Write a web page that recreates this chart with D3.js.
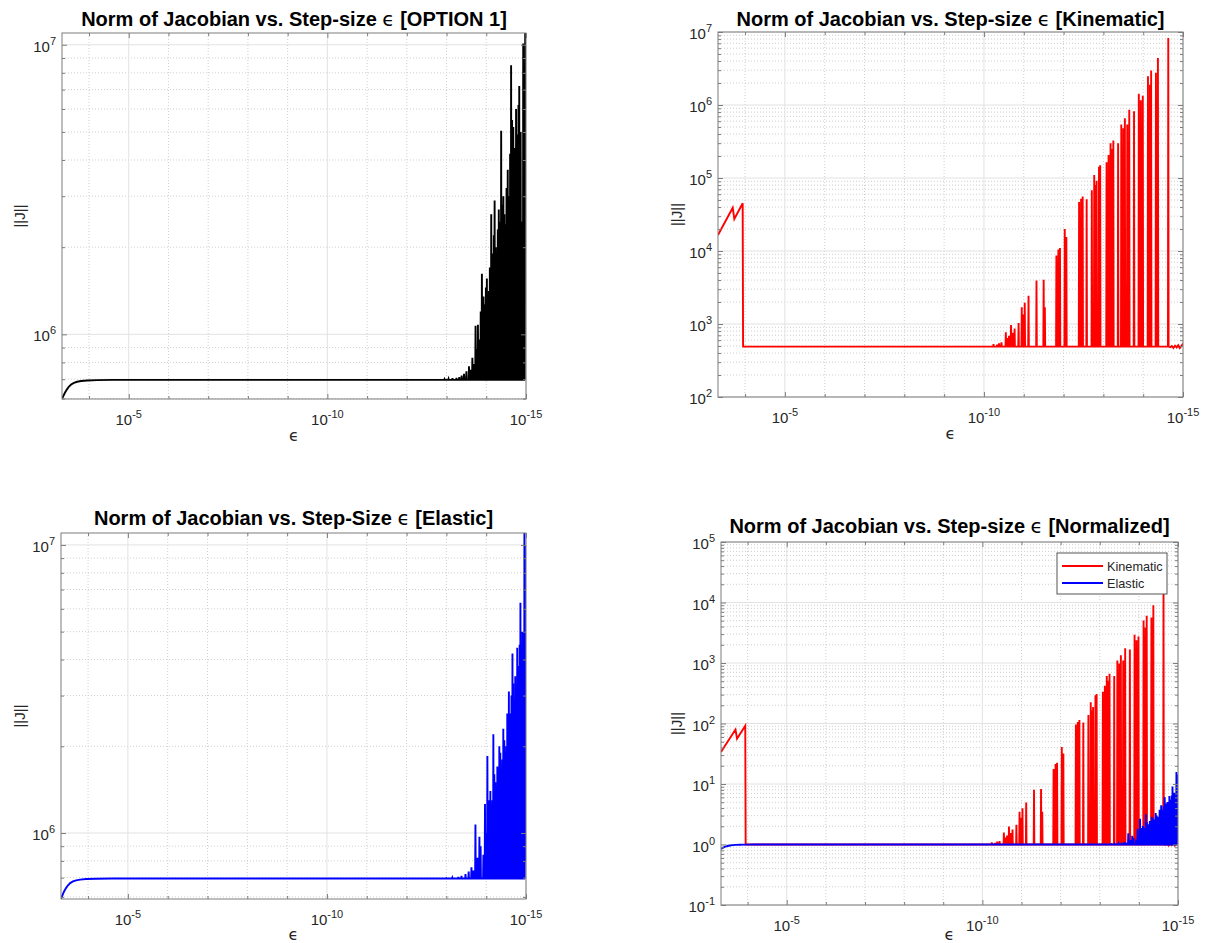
<!DOCTYPE html>
<html>
<head>
<meta charset="utf-8">
<script src="https://cdn.jsdelivr.net/npm/d3@7"></script>
<style>
  body { margin: 0; background: #fff; }
  svg { display: block; }
  text { font-family: "Liberation Sans", Arial, Helvetica, sans-serif; }
</style>
</head>
<body>
<svg id="fig" width="1206" height="943"></svg>
<script>
// ---------- data ----------
// step size eps = 10^-k ; x axis runs from 10^-3.32 down to 10^-15
const xDomain = [Math.pow(10, -3.32), 1e-15];
const xTickExps = [-5, -10, -15];

// y limits / tick labels (powers of ten)
const opt1YDomain = [5.98e5, 1.098e7];
const elasticYDomain = [5.9e5, 1.1e7];
const kinYDomain = [1e2, 1e7];
const normYDomain = [1e-1, 1e5];
const opt1YTickExps = [6, 7];
const elasticYTickExps = [6, 7];
const kinYTickExps = [2, 3, 4, 5, 6, 7];
const normYTickExps = [-1, 0, 1, 2, 3, 4, 5];

// OPTION 1 (black)
const opt1RampK = [3.32, 3.36, 3.40, 3.45, 3.49, 3.55, 3.62, 3.70, 3.80, 3.95, 4.20, 4.60];
const opt1RampV = [5.98e5, 6.15e5, 6.31e5, 6.47e5, 6.59e5, 6.71e5, 6.80e5, 6.86e5, 6.90e5, 6.93e5, 6.95e5, 6.96e5];
const opt1Base = 6.96e5;
const opt1Peaks = [
  [12.95, 7.0e5], [13.05, 7.02e5], [13.15, 7.05e5], [13.25, 7.08e5], [13.32, 7.12e5], [13.38, 7.2e5],
  [13.44, 7.3e5], [13.50, 7.45e5], [13.565, 7.75e5], [13.61, 7.55e5], [13.65, 8.3e5], [13.69, 7.9e5],
  [13.73, 1.07e6], [13.76, 8.9e5], [13.79, 1.08e6], [13.83, 9.6e5], [13.86, 1.2e6], [13.89, 1.62e6],
  [13.93, 1.35e6], [13.96, 1.27e6], [13.99, 1.45e6], [14.015, 1.56e6], [14.04, 1.3e6], [14.065, 1.41e6],
  [14.09, 1.7e6], [14.125, 2.6e6], [14.145, 1.9e6], [14.165, 1.83e6], [14.19, 2.2e6], [14.21, 2.9e6],
  [14.24, 2.0e6], [14.265, 1.91e6], [14.29, 2.3e6], [14.315, 2.7e6], [14.345, 2.45e6], [14.375, 5.05e6],
  [14.40, 2.8e6], [14.43, 3.0e6], [14.455, 2.6e6], [14.48, 2.4e6], [14.51, 3.2e6], [14.54, 3.7e6],
  [14.57, 3.0e6], [14.60, 4.2e6], [14.625, 8.5e6], [14.65, 5.5e6], [14.68, 5.2e6], [14.715, 4.4e6],
  [14.75, 6.0e6], [14.77, 4.9e6], [14.79, 4.7e6], [14.81, 6.2e6], [14.83, 7.2e6], [14.865, 5.0e6],
  [14.90, 2.45e6], [14.93, 1.01e7], [14.96, 7.0e6]
];
const opt1Tail = [[14.98, 1.098e7], [14.99, 1.0e7], [15.0, 1.05e7]];

// Elastic (blue)
const elasticRampK = [3.32, 3.36, 3.40, 3.45, 3.49, 3.55, 3.62, 3.70, 3.80, 3.95, 4.20, 4.60];
const elasticRampV = [5.9e5, 6.1e5, 6.28e5, 6.45e5, 6.57e5, 6.7e5, 6.79e5, 6.85e5, 6.89e5, 6.92e5, 6.94e5, 6.95e5];
const elasticBase = 6.95e5;
const elasticPeaks = [
  [13.00, 6.97e5], [13.15, 7.0e5], [13.30, 7.03e5], [13.38, 7.1e5], [13.48, 7.2e5], [13.56, 7.35e5],
  [13.63, 7.6e5], [13.68, 7.4e5], [13.73, 1.07e6], [13.78, 8.2e5], [13.83, 9.7e5], [13.86, 9.0e5],
  [13.93, 8.4e5], [13.97, 1.26e6], [14.005, 1.0e6], [14.03, 1.85e6], [14.06, 1.1e6], [14.08, 1.3e6],
  [14.105, 1.4e6], [14.13, 1.15e6], [14.155, 1.3e6], [14.18, 2.2e6], [14.205, 1.6e6], [14.23, 1.5e6],
  [14.255, 1.4e6], [14.28, 1.7e6], [14.305, 1.5e6], [14.33, 2.0e6], [14.355, 1.9e6], [14.38, 1.6e6],
  [14.405, 1.8e6], [14.43, 2.3e6], [14.455, 2.1e6], [14.48, 1.9e6], [14.505, 2.0e6], [14.53, 2.6e6],
  [14.55, 2.2e6], [14.57, 3.1e6], [14.59, 2.4e6], [14.61, 2.6e6], [14.635, 3.0e6], [14.66, 4.2e6],
  [14.68, 3.3e6], [14.70, 2.9e6], [14.715, 2.7e6], [14.73, 3.5e6], [14.755, 3.0e6], [14.78, 4.4e6],
  [14.80, 3.8e6], [14.82, 3.4e6], [14.84, 4.5e6], [14.86, 6.3e6], [14.875, 3.5e6], [14.89, 4.0e6],
  [14.91, 5.0e6], [14.93, 3.0e6], [14.945, 4.5e6], [14.96, 1.1e7]
];
const elasticTail = [[14.98, 1.0e7], [14.99, 8.0e5], [15.0, 1.0e7]];

// Kinematic (red)
const kinRampK = [3.32, 3.69, 3.73, 3.94, 3.95];
const kinRampV = [1.65e4, 3.9e4, 2.75e4, 4.5e4, 490];
const kinBase = 490;
const kinPeaks = [
  [10.24, 530], [10.33, 520], [10.38, 545], [10.44, 560], [10.55, 770], [10.59, 640], [10.63, 690],
  [10.68, 970], [10.72, 760], [10.77, 870], [10.87, 1035], [10.95, 1700], [10.98, 1350], [11.025, 1950],
  [11.12, 2430], [11.32, 3950], [11.50, 4050], [11.53, 1700], [11.82, 8700], [11.87, 1.05e4], [11.91, 1.1e4],
  [12.03, 2.0e4], [12.07, 1.56e4], [12.39, 4.7e4], [12.44, 5.2e4], [12.48, 5.6e4], [12.58, 5.1e4],
  [12.71, 6.8e4], [12.77, 1.1e5], [12.80, 8.0e4], [12.83, 9.2e4], [12.89, 1.43e5], [12.92, 1.5e5],
  [13.08, 1.64e5], [13.13, 2.07e5], [13.18, 3.0e5], [13.22, 2.5e5], [13.25, 3.26e5], [13.37, 3.0e5],
  [13.45, 5.4e5], [13.50, 4.8e5], [13.54, 6.6e5], [13.60, 5.4e5], [13.65, 8.6e5], [13.77, 8.2e5],
  [13.89, 1.43e6], [13.94, 1.16e6], [13.99, 1.34e6], [14.12, 2.47e6], [14.17, 1.9e6], [14.20, 2.96e6],
  [14.32, 2.76e6], [14.37, 4.4e6], [14.63, 8.3e6]
];
const kinTail = [[14.68, 480], [14.72, 500], [14.76, 470], [14.80, 505], [14.84, 478], [14.88, 512],
  [14.92, 468], [14.96, 500], [15.0, 540]];

const legendLabels = ["Kinematic", "Elastic"];

// ---------- build polylines ----------
function buildSeries(rampK, rampV, base, peaks, tail) {
  const pts = rampK.map((k, i) => [k, rampV[i]]);
  peaks.forEach(([k, v]) => {
    pts.push([k - 0.008, base], [k, v], [k + 0.008, base]);
  });
  tail.forEach(p => pts.push(p));
  return pts;
}

const opt1Pts = buildSeries(opt1RampK, opt1RampV, opt1Base, opt1Peaks, opt1Tail);
const elasticPts = buildSeries(elasticRampK, elasticRampV, elasticBase, elasticPeaks, elasticTail);
const kinPts = buildSeries(kinRampK, kinRampV, kinBase, kinPeaks, kinTail);
// normalized by the flat level of each curve
const kinNormPts = kinPts.map(([k, v]) => [k, v / kinBase]);
const elasticNormPts = elasticPts.map(([k, v]) => [k, v / elasticBase]);

const svg = d3.select("#fig");
const tickColor = "#262626";
const boxColor = "#7d7d7d";

const panels = [
  { id: "p1", tag: "[OPTION 1]", sizeWord: "Step-size", left: 62, right: 526, top: 33, bottom: 399, titleY: 26,
    yDomain: opt1YDomain, yTicks: opt1YTickExps, ylabelX: 20, series: [{ pts: opt1Pts, color: "#000000" }] },
  { id: "p2", tag: "[Kinematic]", sizeWord: "Step-size", left: 718, right: 1183, top: 32, bottom: 397, titleY: 26,
    yDomain: kinYDomain, yTicks: kinYTickExps, ylabelX: 677, series: [{ pts: kinPts, color: "#ff0000" }] },
  { id: "p3", tag: "[Elastic]", sizeWord: "Step-Size", left: 61, right: 526, top: 533, bottom: 899, titleY: 525,
    yDomain: elasticYDomain, yTicks: elasticYTickExps, ylabelX: 20, series: [{ pts: elasticPts, color: "#0000ff" }] },
  { id: "p4", tag: "[Normalized]", sizeWord: "Step-size", left: 721, right: 1178, top: 542, bottom: 905, titleY: 533,
    yDomain: normYDomain, yTicks: normYTickExps, ylabelX: 677,
    series: [{ pts: kinNormPts, color: "#ff0000" }, { pts: elasticNormPts, color: "#0000ff" }], legend: true }
];

function pow10Label(sel, exp) {
  sel.append("tspan").text("10");
  sel.append("tspan").attr("dy", -7).attr("font-size", 11).text(String(exp));
}

function drawPanel(p) {
  const g = svg.append("g");
  const x = d3.scaleLog().domain(xDomain).range([p.left, p.right]);
  const y = d3.scaleLog().domain(p.yDomain).range([p.bottom, p.top]);

  const xMajor = xTickExps.map(e => Math.pow(10, e));
  const xMinor = d3.range(-4, -15, -1).filter(e => !xTickExps.includes(e)).map(e => Math.pow(10, e));
  const yMajor = p.yTicks.map(e => Math.pow(10, e));
  const yMinor = [];
  const lo = Math.floor(Math.log10(p.yDomain[0])), hi = Math.ceil(Math.log10(p.yDomain[1]));
  for (let e = lo; e < hi; e++) {
    for (let m = 2; m <= 9; m++) {
      const v = m * Math.pow(10, e);
      if (v > p.yDomain[0] && v < p.yDomain[1]) yMinor.push(v);
    }
  }

  // grid
  const grid = g.append("g");
  grid.selectAll(".xmin").data(xMinor).enter().append("line")
    .attr("x1", d => x(d)).attr("x2", d => x(d)).attr("y1", p.top).attr("y2", p.bottom)
    .attr("stroke", "#cfcfcf").attr("stroke-dasharray", "1,2");
  grid.selectAll(".ymin").data(yMinor).enter().append("line")
    .attr("x1", p.left).attr("x2", p.right).attr("y1", d => y(d)).attr("y2", d => y(d))
    .attr("stroke", "#cfcfcf").attr("stroke-dasharray", "1,2");
  grid.selectAll(".xmaj").data(xMajor).enter().append("line")
    .attr("x1", d => x(d)).attr("x2", d => x(d)).attr("y1", p.top).attr("y2", p.bottom)
    .attr("stroke", "#e2e2e2");
  grid.selectAll(".ymaj").data(yMajor).enter().append("line")
    .attr("x1", p.left).attr("x2", p.right).attr("y1", d => y(d)).attr("y2", d => y(d))
    .attr("stroke", "#e2e2e2");

  // data
  const clipId = "clip-" + p.id;
  g.append("clipPath").attr("id", clipId).append("rect")
    .attr("x", p.left).attr("y", p.top).attr("width", p.right - p.left).attr("height", p.bottom - p.top);
  const line = d3.line().x(d => x(Math.pow(10, -d[0]))).y(d => y(d[1]));
  p.series.forEach(s => {
    g.append("path").datum(s.pts).attr("clip-path", `url(#${clipId})`)
      .attr("d", line).attr("fill", "none").attr("stroke", s.color)
      .attr("stroke-width", 1.9).attr("stroke-linejoin", "miter");
  });

  // tick marks (inside, on all four sides)
  const tickAxes = [
    [d3.axisBottom(x), `translate(0,${p.bottom})`, xMajor, xMinor],
    [d3.axisTop(x), `translate(0,${p.top})`, xMajor, xMinor],
    [d3.axisLeft(y), `translate(${p.left},0)`, yMajor, yMinor],
    [d3.axisRight(y), `translate(${p.right},0)`, yMajor, yMinor]
  ];
  tickAxes.forEach(([ax, tr, maj, min]) => {
    const make = (vals, len) => {
      const a = g.append("g").attr("transform", tr)
        .call(ax.tickValues(vals).tickSize(-len).tickSizeOuter(0).tickFormat(""));
      a.select(".domain").remove();
      a.selectAll("line").attr("stroke", boxColor);
    };
    make(maj, 5);
    make(min, 3);
  });

  g.append("rect").attr("x", p.left).attr("y", p.top)
    .attr("width", p.right - p.left).attr("height", p.bottom - p.top)
    .attr("fill", "none").attr("stroke", boxColor);

  // tick labels
  xTickExps.forEach(e => {
    const t = g.append("text").attr("x", x(Math.pow(10, e))).attr("y", p.bottom + 26)
      .attr("text-anchor", "middle").attr("font-size", 15).attr("fill", tickColor);
    pow10Label(t, e);
  });
  p.yTicks.forEach(e => {
    const t = g.append("text").attr("x", p.left - 6).attr("y", y(Math.pow(10, e)) + 7)
      .attr("text-anchor", "end").attr("font-size", 15).attr("fill", tickColor);
    pow10Label(t, e);
  });

  // axis labels
  const cx = (p.left + p.right) / 2, cy = (p.top + p.bottom) / 2;
  g.append("text").attr("x", cx).attr("y", Math.min(p.bottom + 42, 940)).attr("text-anchor", "middle")
    .attr("font-size", 16).attr("fill", tickColor).style("font-family", "'DejaVu Sans', sans-serif")
    .text("\u03F5");
  g.append("text").attr("transform", `translate(${p.ylabelX},${cy}) rotate(-90)`)
    .attr("text-anchor", "middle").attr("dy", "0.35em").attr("font-size", 15).attr("fill", tickColor)
    .text("||J||");

  // title
  const title = g.append("text").attr("x", cx).attr("y", p.titleY).attr("text-anchor", "middle")
    .attr("font-size", 20).attr("font-weight", "bold").attr("fill", "#000");
  title.append("tspan").text(`Norm of Jacobian vs. ${p.sizeWord} `);
  title.append("tspan").attr("font-weight", "normal").style("font-family", "'DejaVu Sans', sans-serif")
    .text("\u03F5");
  title.append("tspan").text(" " + p.tag);

  if (p.legend) {
    const lg = g.append("g");
    lg.append("rect").attr("x", 1057).attr("y", 553).attr("width", 110).attr("height", 41)
      .attr("fill", "#fff").attr("stroke", "#555");
    legendLabels.forEach((name, i) => {
      const ly = 566 + i * 17;
      lg.append("line").attr("x1", 1062).attr("x2", 1103).attr("y1", ly).attr("y2", ly)
        .attr("stroke", p.series[i].color).attr("stroke-width", 1.9);
      lg.append("text").attr("x", 1107).attr("y", ly + 4.5).attr("font-size", 12.7)
        .attr("fill", tickColor).text(name);
    });
  }
}

panels.forEach(drawPanel);
</script>
</body>
</html>
